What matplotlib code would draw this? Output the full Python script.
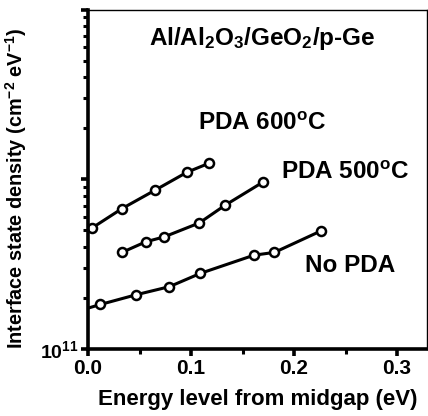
import matplotlib
matplotlib.use("Agg")
import matplotlib.pyplot as plt
from matplotlib.ticker import LogLocator, FixedLocator, NullFormatter, FuncFormatter

plt.rcParams["font.family"] = ["Liberation Sans", "DejaVu Sans"]
plt.rcParams["font.weight"] = "bold"
plt.rcParams["mathtext.fontset"] = "custom"
plt.rcParams["mathtext.rm"] = "Liberation Sans:bold"
plt.rcParams["mathtext.bf"] = "Liberation Sans:bold"
plt.rcParams["mathtext.it"] = "Liberation Sans:bold"
plt.rcParams["mathtext.default"] = "rm"

# Dit vs energy from midgap, three anneal conditions
e_600 = [0.004, 0.033, 0.065, 0.096, 0.117]
dit_600 = [5.17e11, 6.72e11, 8.62e11, 1.10e12, 1.24e12]

e_500 = [0.033, 0.056, 0.074, 0.108, 0.133, 0.170]
dit_500 = [3.71e11, 4.28e11, 4.58e11, 5.53e11, 7.03e11, 9.64e11]

e_none = [-0.010, 0.012, 0.047, 0.079, 0.109, 0.161, 0.181, 0.226]
dit_none = [1.67e11, 1.83e11, 2.09e11, 2.33e11, 2.79e11, 3.57e11, 3.71e11, 4.96e11]

x_ticks = [0.0, 0.1, 0.2, 0.3]
x_minor = [0.05, 0.15, 0.25]

fig = plt.figure(figsize=(4.28, 4.16), dpi=100)
ax = fig.add_axes([0.2056, 0.161, 0.792, 0.816])

for e, d in [(e_600, dit_600), (e_500, dit_500), (e_none, dit_none)]:
    ax.plot(e, d, "-o", color="black", lw=2.2, ms=6.5, mfc="white",
            mec="black", mew=1.8)

ax.set_yscale("log")
ax.set_xlim(0.0, 0.329)
ax.set_ylim(1e11, 1e13)

ax.xaxis.set_major_locator(FixedLocator(x_ticks))
ax.xaxis.set_minor_locator(FixedLocator(x_minor))
ax.xaxis.set_major_formatter(FuncFormatter(lambda v, p: f"{v:.1f}"))
ax.yaxis.set_major_locator(LogLocator(base=10, numticks=10))
ax.yaxis.set_minor_locator(LogLocator(base=10, subs=range(2, 10), numticks=20))
ax.yaxis.set_major_formatter(
    FuncFormatter(lambda v, p: r"10$^{11}$" if abs(v - 1e11) < 1 else ""))
ax.yaxis.set_minor_formatter(NullFormatter())

for side in ["left", "bottom"]:
    ax.spines[side].set_linewidth(2.6)
for side in ["top", "right"]:
    ax.spines[side].set_linewidth(1.0)

ax.tick_params(axis="both", which="major", direction="out", length=5,
               width=2.6, labelsize=15, pad=2)
ax.tick_params(axis="y", which="major", labelsize=14)
ax.tick_params(axis="both", which="minor", direction="out", length=3.5,
               width=2.2)
ax.tick_params(axis="x", which="both", top=False)

ax.set_xlabel("Energy level from midgap (eV)", fontsize=16,
              fontweight="bold", labelpad=8)
ax.set_ylabel(r"Interface state density (cm$^{-2}$ eV$^{-1}$)",
              fontsize=14.3, fontweight="bold")
ax.yaxis.set_label_coords(-0.175, 0.475)

ax.text(0.169, 6.75e12, r"Al/Al$_{2}$O$_{3}$/GeO$_{2}$/p-Ge",
        ha="center", va="center", fontsize=17.5, fontweight="bold")
ax.text(0.169, 2.13e12, r"PDA 600$^{\mathrm{o}}$C",
        ha="center", va="center", fontsize=17.5, fontweight="bold")
ax.text(0.2495, 1.10e12, r"PDA 500$^{\mathrm{o}}$C",
        ha="center", va="center", fontsize=17.5, fontweight="bold")
ax.text(0.254, 3.12e11, "No PDA",
        ha="center", va="center", fontsize=17.5, fontweight="bold")

fig.savefig("out.png", dpi=100)
